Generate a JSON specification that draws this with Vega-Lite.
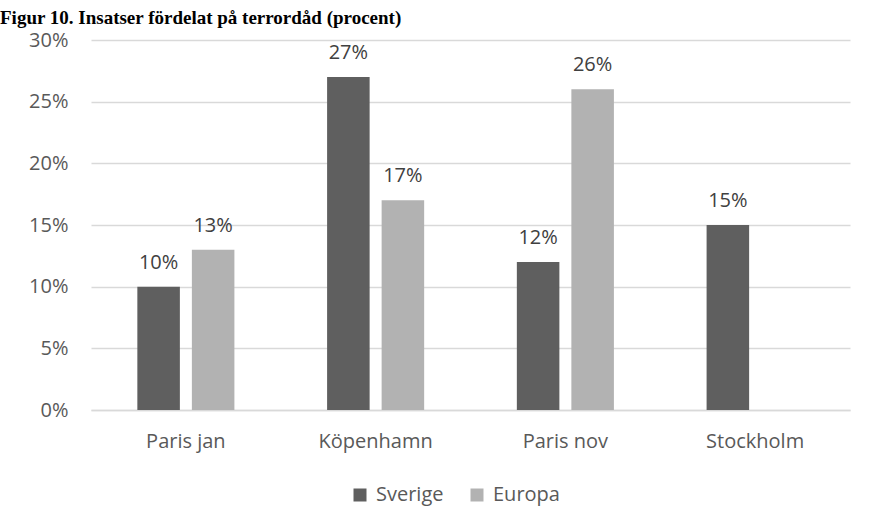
{
  "$schema": "https://vega.github.io/schema/vega-lite/v6.json",
  "width": 759,
  "height": 370,
  "autosize": {"type": "none"},
  "padding": {"left": 91, "top": 40, "right": 19, "bottom": 115},
  "background": "white",
  "title": {
    "text": "Figur 10. Insatser fördelat på terrordåd (procent)",
    "font": "Liberation Serif",
    "fontSize": 19,
    "fontWeight": "bold",
    "color": "black",
    "anchor": "start",
    "frame": "group",
    "baseline": "alphabetic",
    "offset": -13,
    "dx": -91
  },
  "data": {
    "values": [
      {"attack": "Paris jan", "region": "Sverige", "value": 0.10},
      {"attack": "Paris jan", "region": "Europa", "value": 0.13},
      {"attack": "Köpenhamn", "region": "Sverige", "value": 0.27},
      {"attack": "Köpenhamn", "region": "Europa", "value": 0.17},
      {"attack": "Paris nov", "region": "Sverige", "value": 0.12},
      {"attack": "Paris nov", "region": "Europa", "value": 0.26},
      {"attack": "Stockholm", "region": "Sverige", "value": 0.15}
    ]
  },
  "encoding": {
    "x": {
      "field": "attack",
      "type": "nominal",
      "sort": ["Paris jan", "Köpenhamn", "Paris nov", "Stockholm"],
      "scale": {"paddingInner": 0, "paddingOuter": 0},
      "axis": {
        "title": null,
        "labelAngle": 0,
        "domain": true,
        "domainColor": "#d9d9d9",
        "domainWidth": 1.3,
        "ticks": false,
        "grid": false,
        "labelPadding": 21,
        "labelFont": "Open Sans",
        "labelFontSize": 20,
        "labelColor": "#595959"
      }
    },
    "xOffset": {
      "field": "region",
      "sort": ["Sverige", "Europa"],
      "scale": {"paddingInner": 0.22, "paddingOuter": 0.85}
    },
    "y": {
      "field": "value",
      "type": "quantitative",
      "scale": {"domain": [0, 0.3]},
      "axis": {
        "title": null,
        "values": [0, 0.05, 0.1, 0.15, 0.2, 0.25, 0.3],
        "format": ".0%",
        "grid": true,
        "gridColor": "#d9d9d9",
        "gridWidth": 1.3,
        "domain": false,
        "ticks": false,
        "labelPadding": 23,
        "labelFont": "Open Sans",
        "labelFontSize": 20,
        "labelColor": "#595959"
      }
    }
  },
  "layer": [
    {
      "mark": {"type": "bar"},
      "encoding": {
        "color": {
          "field": "region",
          "type": "nominal",
          "scale": {"domain": ["Sverige", "Europa"], "range": ["#5f5f5f", "#b2b2b2"]},
          "legend": {
            "title": null,
            "orient": "none",
            "legendX": 259,
            "legendY": 445,
            "direction": "horizontal",
            "padding": 0,
            "symbolType": "square",
            "symbolSize": 169,
            "symbolStrokeWidth": 0,
            "labelFont": "Open Sans",
            "labelFontSize": 20,
            "labelColor": "#595959",
            "labelOffset": 6,
            "columnPadding": 23
          }
        }
      }
    },
    {
      "mark": {
        "type": "text",
        "baseline": "alphabetic",
        "dy": -18,
        "font": "Open Sans",
        "fontSize": 20,
        "color": "#404040"
      },
      "encoding": {
        "text": {"field": "value", "type": "quantitative", "format": ".0%"}
      }
    }
  ],
  "config": {"view": {"stroke": null}}
}
